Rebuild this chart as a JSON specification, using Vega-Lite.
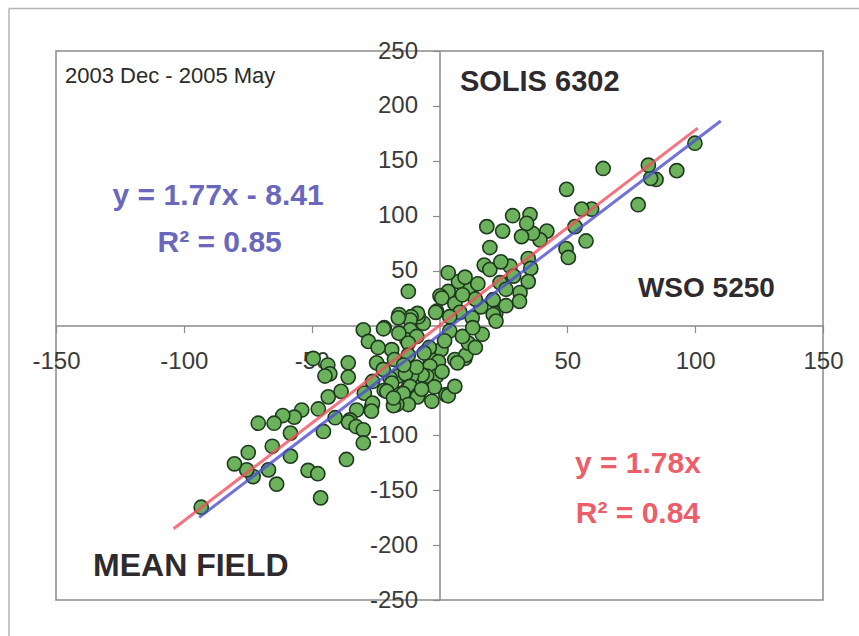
{
  "$schema": "https://vega.github.io/schema/vega-lite/v6.json",
  "width": 767,
  "height": 549,
  "autosize": {"type": "none"},
  "padding": {"left": 56, "top": 51, "right": 36, "bottom": 36},
  "background": "white",
  "config": {
    "view": {"stroke": "#8a8a8a", "strokeWidth": 1.5},
    "font": "Liberation Sans"
  },
  "datasets": {
    "pts": [
      {"wso": 99.9, "solis": 166}, {"wso": 92.8, "solis": 141}, {"wso": 84.7, "solis": 133}, {"wso": 82.6, "solis": 134},
      {"wso": 81.7, "solis": 146}, {"wso": 77.7, "solis": 110}, {"wso": 64, "solis": 143}, {"wso": 59.5, "solis": 106},
      {"wso": 55.6, "solis": 106}, {"wso": 57.3, "solis": 77}, {"wso": 53, "solis": 90}, {"wso": 49.7, "solis": 124},
      {"wso": 49.5, "solis": 70}, {"wso": 50.4, "solis": 62}, {"wso": 42, "solis": 86}, {"wso": 39.3, "solis": 78},
      {"wso": 36.4, "solis": 84}, {"wso": 35.4, "solis": 101}, {"wso": 34.1, "solis": 93}, {"wso": 32.1, "solis": 81},
      {"wso": 28.6, "solis": 100}, {"wso": 24.7, "solis": 86}, {"wso": 18.5, "solis": 90}, {"wso": 19.7, "solis": 71},
      {"wso": 17.5, "solis": 55}, {"wso": 19.7, "solis": 51}, {"wso": 27.6, "solis": 54}, {"wso": 34.7, "solis": 61},
      {"wso": 35.7, "solis": 52}, {"wso": 34.7, "solis": 40}, {"wso": 31.5, "solis": 30}, {"wso": 31.3, "solis": 22},
      {"wso": 23.7, "solis": 39}, {"wso": 21, "solis": 23.5}, {"wso": 22, "solis": 11}, {"wso": 16.2, "solis": 17},
      {"wso": 21, "solis": 10}, {"wso": 22.1, "solis": 4}, {"wso": 12.8, "solis": 7}, {"wso": 12, "solis": 33},
      {"wso": 11.3, "solis": 34}, {"wso": 7.4, "solis": 40}, {"wso": 3.4, "solis": 48}, {"wso": 3.4, "solis": 31},
      {"wso": 0.2, "solis": 27}, {"wso": 0.9, "solis": 25}, {"wso": 6, "solis": 20}, {"wso": -1.1, "solis": 13},
      {"wso": -1.5, "solis": 12}, {"wso": -12.2, "solis": 31}, {"wso": 8, "solis": 12}, {"wso": 14, "solis": 24},
      {"wso": 26, "solis": 33}, {"wso": 29, "solis": 45}, {"wso": 24, "solis": 58}, {"wso": 10, "solis": 44},
      {"wso": 15, "solis": 38}, {"wso": 4, "solis": 8}, {"wso": 26, "solis": 18}, {"wso": 9, "solis": 28},
      {"wso": -6.3, "solis": 2}, {"wso": -8.3, "solis": 8}, {"wso": -8.6, "solis": 11}, {"wso": -11.1, "solis": 8},
      {"wso": -11.5, "solis": 5}, {"wso": -15.8, "solis": 10}, {"wso": -16.1, "solis": 7}, {"wso": -21.6, "solis": -2},
      {"wso": -21.9, "solis": -3}, {"wso": -29.8, "solis": -4}, {"wso": -27.8, "solis": -14.5}, {"wso": -11.5, "solis": -4},
      {"wso": -12.8, "solis": -13}, {"wso": -8.9, "solis": -10}, {"wso": -15.9, "solis": -7}, {"wso": -18.7, "solis": -22},
      {"wso": -12.2, "solis": -16}, {"wso": -24.6, "solis": -34}, {"wso": -17.6, "solis": -31}, {"wso": -12.2, "solis": -27},
      {"wso": 0.6, "solis": -22}, {"wso": -3.7, "solis": -30}, {"wso": -0.4, "solis": -33}, {"wso": 6, "solis": -31},
      {"wso": 9.9, "solis": -30}, {"wso": 10.3, "solis": -27}, {"wso": 11.3, "solis": -16}, {"wso": 16.7, "solis": -8},
      {"wso": 7, "solis": -34}, {"wso": -4.7, "solis": -39}, {"wso": -3.7, "solis": -37}, {"wso": -1.1, "solis": -46},
      {"wso": -5, "solis": -46}, {"wso": -6.8, "solis": -45}, {"wso": -10.9, "solis": -46}, {"wso": -16.1, "solis": -46},
      {"wso": -13.3, "solis": -44}, {"wso": -19.3, "solis": -48}, {"wso": -18.7, "solis": -52.5}, {"wso": -11.5, "solis": -55.5},
      {"wso": -21.6, "solis": -59}, {"wso": -20.6, "solis": -60}, {"wso": -14.2, "solis": -62}, {"wso": -8.3, "solis": -63},
      {"wso": -8.6, "solis": -65}, {"wso": 2.5, "solis": -63}, {"wso": 3.4, "solis": -64}, {"wso": 6, "solis": -55.5},
      {"wso": -3, "solis": -69}, {"wso": -12.2, "solis": -72}, {"wso": -16.7, "solis": -72}, {"wso": -18, "solis": -73},
      {"wso": -18, "solis": -66}, {"wso": -26.2, "solis": -51}, {"wso": 4, "solis": -5}, {"wso": 9, "solis": -10},
      {"wso": 13, "solis": -2}, {"wso": 2, "solis": -14}, {"wso": -4, "solis": -20}, {"wso": 14, "solis": -20},
      {"wso": -6, "solis": -25}, {"wso": -22, "solis": -40}, {"wso": -9, "solis": -38}, {"wso": -2, "solis": -56},
      {"wso": -14, "solis": -36}, {"wso": -24, "solis": -20}, {"wso": 1, "solis": -42}, {"wso": -7, "solis": -58},
      {"wso": -49.4, "solis": -30}, {"wso": -43.7, "solis": -36}, {"wso": -35.7, "solis": -34}, {"wso": -42.9, "solis": -44},
      {"wso": -44.8, "solis": -46}, {"wso": -35.7, "solis": -47}, {"wso": -43.5, "solis": -65}, {"wso": -29.4, "solis": -61.6},
      {"wso": -26.5, "solis": -74}, {"wso": -26.2, "solis": -70.7}, {"wso": -32.4, "solis": -77}, {"wso": -26.6, "solis": -78},
      {"wso": -35, "solis": -86}, {"wso": -35.6, "solis": -88}, {"wso": -32.6, "solis": -92}, {"wso": -29.8, "solis": -95},
      {"wso": -29.8, "solis": -107}, {"wso": -40.8, "solis": -84}, {"wso": -45.4, "solis": -96.5}, {"wso": -47.4, "solis": -76},
      {"wso": -53.9, "solis": -77}, {"wso": -56.8, "solis": -83.5}, {"wso": -61.3, "solis": -82}, {"wso": -64.7, "solis": -89},
      {"wso": -70.9, "solis": -89}, {"wso": -58.3, "solis": -98}, {"wso": -65.4, "solis": -110}, {"wso": -58.3, "solis": -119},
      {"wso": -66.9, "solis": -131.5}, {"wso": -63.7, "solis": -144.5}, {"wso": -72.9, "solis": -137.6}, {"wso": -75.4, "solis": -131.5},
      {"wso": -74.8, "solis": -115.7}, {"wso": -80.2, "solis": -126}, {"wso": -93.2, "solis": -165.5}, {"wso": -51.4, "solis": -132},
      {"wso": -47.6, "solis": -135}, {"wso": -46.5, "solis": -157}, {"wso": -36.4, "solis": -122}, {"wso": -38.5, "solis": -60}
    ],
    "fits": [
      {"fit": "blue", "wso": -94, "solis": -174.8},
      {"fit": "blue", "wso": 110, "solis": 186.3},
      {"fit": "red", "wso": -104, "solis": -185.1},
      {"fit": "red", "wso": 101, "solis": 179.8}
    ],
    "one": [{}]
  },
  "layer": [
    {
      "data": {"name": "pts"},
      "mark": {"type": "point", "shape": "circle", "filled": true, "fill": "#6cb25c", "stroke": "#1e3a1e", "strokeWidth": 1.6, "size": 200, "opacity": 1},
      "encoding": {
        "x": {
          "field": "wso", "type": "quantitative",
          "scale": {"domain": [-150, 150], "nice": false, "zero": false},
          "axis": {
            "title": null, "orient": "bottom", "offset": -274.5,
            "values": [-150, -100, -50, 50, 100, 150],
            "labelExpr": "'' + datum.value",
            "grid": false, "domainColor": "#8a8a8a", "domainWidth": 1.5,
            "tickColor": "#8a8a8a", "tickSize": 7, "tickWidth": 1.2,
            "labelFontSize": 24, "labelColor": "#3a3a3a", "labelPadding": 17,
            "labelFlush": false, "labelOverlap": false, "labelBound": false
          }
        },
        "y": {
          "field": "solis", "type": "quantitative",
          "scale": {"domain": [-250, 250], "nice": false, "zero": false},
          "axis": {
            "title": null, "orient": "left", "offset": -383.5,
            "values": [-250, -200, -150, -100, -50, 50, 100, 150, 200, 250],
            "labelExpr": "'' + datum.value",
            "grid": false, "domainColor": "#8a8a8a", "domainWidth": 1.5,
            "tickColor": "#8a8a8a", "tickSize": 7, "tickWidth": 1.2,
            "labelFontSize": 24, "labelColor": "#3a3a3a", "labelPadding": 15,
            "labelFlush": false, "labelOverlap": false, "labelBound": false
          }
        }
      }
    },
    {
      "data": {"name": "fits"},
      "mark": {"type": "line", "strokeWidth": 3, "opacity": 0.8},
      "encoding": {
        "x": {"field": "wso", "type": "quantitative"},
        "y": {"field": "solis", "type": "quantitative"},
        "detail": {"field": "fit"},
        "color": {"field": "fit", "type": "nominal", "scale": {"domain": ["blue", "red"], "range": ["#4f4fd0", "#f0505e"]}, "legend": null}
      }
    },
    {
      "data": {"name": "one"},
      "mark": {"type": "rule", "color": "#b4b4b4", "strokeWidth": 1.5, "clip": false},
      "encoding": {"x": {"datum": -168.4}, "x2": {"datum": 170}, "y": {"datum": 288.7}}
    },
    {
      "data": {"name": "one"},
      "mark": {"type": "rule", "color": "#b4b4b4", "strokeWidth": 1.5, "clip": false},
      "encoding": {"x": {"datum": -168.4}, "y": {"datum": 288.7}, "y2": {"datum": -290}}
    },
    {
      "data": {"name": "one"},
      "mark": {"type": "text", "text": "2003 Dec - 2005 May", "align": "left", "baseline": "middle", "fontSize": 22, "color": "#2a2a2a"},
      "encoding": {"x": {"datum": -146.5}, "y": {"datum": 227}}
    },
    {
      "data": {"name": "one"},
      "mark": {"type": "text", "text": "SOLIS 6302", "align": "left", "baseline": "middle", "fontSize": 29, "fontWeight": "bold", "color": "#2e2a2e"},
      "encoding": {"x": {"datum": 8}, "y": {"datum": 222}}
    },
    {
      "data": {"name": "one"},
      "mark": {"type": "text", "text": "WSO 5250", "align": "left", "baseline": "middle", "fontSize": 28, "fontWeight": "bold", "color": "#2e2a2e"},
      "encoding": {"x": {"datum": 77.6}, "y": {"datum": 33}}
    },
    {
      "data": {"name": "one"},
      "mark": {"type": "text", "text": "MEAN FIELD", "align": "left", "baseline": "middle", "fontSize": 32, "fontWeight": "bold", "color": "#2e2a2e"},
      "encoding": {"x": {"datum": -135.5}, "y": {"datum": -219}}
    },
    {
      "data": {"name": "one"},
      "mark": {"type": "text", "text": "y = 1.77x - 8.41", "align": "center", "baseline": "middle", "fontSize": 30, "fontWeight": "bold", "color": "#6a68bd"},
      "encoding": {"x": {"datum": -86.6}, "y": {"datum": 118}}
    },
    {
      "data": {"name": "one"},
      "mark": {"type": "text", "text": "R² = 0.85", "align": "center", "baseline": "middle", "fontSize": 30, "fontWeight": "bold", "color": "#6a68bd"},
      "encoding": {"x": {"datum": -86}, "y": {"datum": 75}}
    },
    {
      "data": {"name": "one"},
      "mark": {"type": "text", "text": "y = 1.78x", "align": "center", "baseline": "middle", "fontSize": 30, "fontWeight": "bold", "color": "#ec5f6a"},
      "encoding": {"x": {"datum": 77.6}, "y": {"datum": -126}}
    },
    {
      "data": {"name": "one"},
      "mark": {"type": "text", "text": "R² = 0.84", "align": "center", "baseline": "middle", "fontSize": 30, "fontWeight": "bold", "color": "#ec5f6a"},
      "encoding": {"x": {"datum": 77.6}, "y": {"datum": -172}}
    }
  ]
}
